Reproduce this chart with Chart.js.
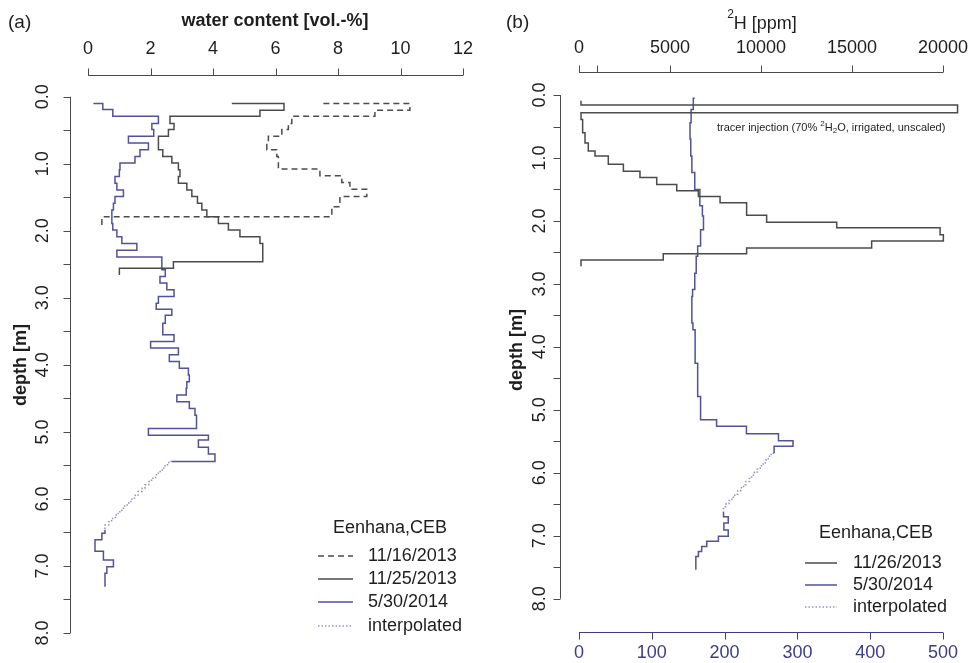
<!DOCTYPE html>
<html>
<head>
<meta charset="utf-8">
<script src="https://cdn.jsdelivr.net/npm/chart.js@4.4.1/dist/chart.umd.min.js"></script>
<style>
  html, body { margin: 0; padding: 0; background: #fff; }
  #wrap { position: relative; width: 971px; height: 663px; }
  #wrap canvas { position: absolute; top: 0; }
</style>
</head>
<body>
<div id="wrap">
  <canvas id="chartA" width="485" height="663" style="left:0"></canvas>
  <canvas id="chartB" width="486" height="663" style="left:485px"></canvas>
</div>
<script>
// axis ticks
const depthTicks = [0, 0.5, 1, 1.5, 2, 2.5, 3, 3.5, 4, 4.5, 5, 5.5, 6, 6.5, 7, 7.5, 8];
const depthLabels = ['0.0', '', '1.0', '', '2.0', '', '3.0', '', '4.0', '', '5.0', '', '6.0', '', '7.0', '', '8.0'];
const wcTicks = [0, 2, 4, 6, 8, 10, 12];
const h2Ticks = [0, 1000, 5000, 10000, 15000, 20000];
const h2Labels = ['0', '', '5000', '10000', '15000', '20000'];
const blueTicks = [0, 100, 200, 300, 400, 500];

// (a) water content [vol.-%] vs depth [m]
const wc1116Value = [7.53, 10.3, 9.18, 6.52, 6.41, 6.20, 5.77, 5.72, 6.04, 6.09, 7.42, 8.12, 8.38, 8.92, 8.06, 7.80, 0.44];
const wc1116Depth = [0.10, 0.20, 0.29, 0.40, 0.49, 0.59, 0.69, 0.79, 0.89, 1.08, 1.18, 1.28, 1.38, 1.49, 1.64, 1.79, 1.96];

const wc1125Value = [4.60, 6.27, 5.50, 2.62, 2.75, 2.57, 2.25, 2.39, 2.68, 2.89, 2.94, 2.89, 3.16, 3.32, 3.50, 3.64, 3.80, 4.17, 4.49, 4.86, 5.50, 5.59, 2.73, 1.00];
const wc1125Depth = [0.10, 0.20, 0.29, 0.40, 0.49, 0.59, 0.79, 0.89, 0.99, 1.09, 1.19, 1.29, 1.39, 1.49, 1.59, 1.69, 1.79, 1.89, 1.99, 2.09, 2.19, 2.46, 2.56, 2.66];

const wc0530Value = [0.17, 0.47, 0.79, 2.25, 2.04, 2.10, 1.29, 1.93, 1.66, 1.50, 1.02, 1.00, 0.86, 0.92, 1.13, 0.86, 0.81, 0.76, 0.76, 0.79,
  0.92, 1.08, 1.56, 0.92, 2.36, 2.47, 2.30, 2.52, 2.75, 2.25, 2.18, 2.68, 2.47, 2.39, 2.75, 2.00, 2.89, 2.60, 2.92, 3.21,
  3.24, 3.16, 3.14, 2.84, 3.24, 3.42, 3.47, 1.93, 3.85, 3.53, 3.85, 4.06, 2.68];
const wc0530Depth = [0.10, 0.19, 0.29, 0.40, 0.49, 0.59, 0.69, 0.79, 0.89, 0.99, 1.09, 1.19, 1.29, 1.39, 1.49, 1.59, 1.69, 1.79, 1.89, 1.99,
  2.09, 2.19, 2.29, 2.39, 2.58, 2.68, 2.78, 2.88, 2.98, 3.08, 3.17, 3.26, 3.38, 3.55, 3.65, 3.75, 3.85, 3.95, 4.05, 4.15,
  4.25, 4.35, 4.45, 4.55, 4.65, 4.75, 4.95, 5.05, 5.12, 5.23, 5.33, 5.44, 5.44];

const wcInterpValue = [2.68, 2.58, 2.46, 2.37, 2.25, 2.16, 2.03, 1.94, 1.82, 1.73, 1.60, 1.51, 1.40, 1.30, 1.17, 1.08, 0.96, 0.87, 0.75, 0.66, 0.54];
const wcInterpDepth = [5.44, 5.49, 5.54, 5.59, 5.64, 5.69, 5.74, 5.79, 5.84, 5.89, 5.94, 5.99, 6.04, 6.09, 6.14, 6.19, 6.24, 6.29, 6.34, 6.39, 6.46];

const wcDeepValue = [0.54, 0.54, 0.44, 0.22, 0.49, 0.81, 0.60, 0.54];
const wcDeepDepth = [6.46, 6.51, 6.61, 6.78, 6.91, 7.01, 7.11, 7.31];

// (b) 2H [ppm] (11/26/2013, top axis) and 5/30/2014 (bottom axis)
const h1126Value = [110, 110, 20800, 110, 200, 330, 510, 880, 1610, 2440, 3350, 4270, 5370, 6560, 7750, 9210, 10310, 14160, 19840, 20020, 16080, 9210, 4630, 110];
const h1126Depth = [0.09, 0.16, 0.28, 0.39, 0.60, 0.76, 0.89, 0.97, 1.10, 1.21, 1.31, 1.42, 1.52, 1.61, 1.71, 1.91, 2.02, 2.11, 2.22, 2.32, 2.43, 2.52, 2.62, 2.72];

const h0530Value = [159, 157, 154, 152.5, 153.5, 155, 159, 166, 169.5, 171, 167, 163, 161, 159, 156, 155, 156.5, 159.5, 163, 167, 189, 230, 274, 294, 268];
const h0530Depth = [0.05, 0.23, 0.44, 0.70, 0.97, 1.23, 1.50, 1.76, 1.92, 2.14, 2.40, 2.56, 2.83, 3.09, 3.20, 3.62, 3.73, 4.26, 4.79, 5.16, 5.26, 5.38, 5.49, 5.58, 5.69];

const hInterpValue = [268, 264, 260, 257, 253, 249, 245, 241, 237, 234, 229, 226, 222, 218, 214, 210, 206, 202, 198.5];
const hInterpDepth = [5.69, 5.74, 5.79, 5.84, 5.89, 5.94, 5.99, 6.04, 6.09, 6.14, 6.19, 6.24, 6.29, 6.34, 6.39, 6.44, 6.49, 6.54, 6.62];

const hDeepValue = [198.5, 198.5, 205, 199, 205, 191.5, 175.5, 168.5, 164, 160.5];
const hDeepDepth = [6.62, 6.70, 6.80, 6.91, 7.01, 7.09, 7.17, 7.25, 7.33, 7.54];

const FAM = '"Liberation Sans", Arial, sans-serif';
const INK = '#1e1e1e';
const AXIS = '#4a4a4a';
const GREY = '#4b4b4b';
const BLUE = '#51519c';
const BLUE_AX = '#3c3c8c';
const BLUE_DOT = '#9393c9';

function pts(values, depths) {
  return values.map((v, i) => ({ x: v, y: depths[i] }));
}

function stepLine(values, depths, color, dash, xAxisID) {
  return {
    data: pts(values, depths),
    borderColor: color,
    borderWidth: 1.5,
    borderDash: dash || [],
    stepped: 'before',
    pointRadius: 0,
    fill: false,
    xAxisID: xAxisID || 'x',
    yAxisID: 'y'
  };
}

function axisH(ctx, scale, ticks, labels, y, dir, labelY, lineCol, textCol) {
  ctx.strokeStyle = lineCol;
  ctx.lineWidth = 1;
  ctx.beginPath();
  ctx.moveTo(scale.getPixelForValue(ticks[0]), y + 0.5);
  ctx.lineTo(scale.getPixelForValue(ticks[ticks.length - 1]), y + 0.5);
  ticks.forEach(t => {
    const x = Math.round(scale.getPixelForValue(t)) + 0.5;
    ctx.moveTo(x, y + 0.5);
    ctx.lineTo(x, y + 0.5 + dir * 7);
  });
  ctx.stroke();
  ctx.fillStyle = textCol;
  ctx.font = '18px ' + FAM;
  ctx.textAlign = 'center';
  ctx.textBaseline = 'middle';
  ticks.forEach((t, i) => {
    if (labels[i]) ctx.fillText(labels[i], scale.getPixelForValue(t), labelY);
  });
}

function axisV(ctx, scale, ticks, labels, x, labelX) {
  ctx.strokeStyle = AXIS;
  ctx.lineWidth = 1;
  ctx.beginPath();
  ctx.moveTo(x + 0.5, scale.getPixelForValue(ticks[0]));
  ctx.lineTo(x + 0.5, scale.getPixelForValue(ticks[ticks.length - 1]));
  ticks.forEach(t => {
    const y = Math.round(scale.getPixelForValue(t)) + 0.5;
    ctx.moveTo(x + 0.5, y);
    ctx.lineTo(x + 0.5 - 7, y);
  });
  ctx.stroke();
  ctx.fillStyle = INK;
  ctx.font = '18px ' + FAM;
  ctx.textAlign = 'center';
  ctx.textBaseline = 'middle';
  ticks.forEach((t, i) => {
    if (!labels[i]) return;
    ctx.save();
    ctx.translate(labelX, scale.getPixelForValue(t));
    ctx.rotate(-Math.PI / 2);
    ctx.fillText(labels[i], 0, 0);
    ctx.restore();
  });
}

function vText(ctx, text, x, y, font) {
  ctx.save();
  ctx.translate(x, y);
  ctx.rotate(-Math.PI / 2);
  ctx.font = font;
  ctx.textAlign = 'center';
  ctx.textBaseline = 'middle';
  ctx.fillText(text, 0, 0);
  ctx.restore();
}

function legendBox(ctx, title, titleX, titleY, items, x0, x1, tx, ys) {
  ctx.fillStyle = INK;
  ctx.font = '18px ' + FAM;
  ctx.textAlign = 'center';
  ctx.textBaseline = 'middle';
  ctx.fillText(title, titleX, titleY);
  items.forEach((it, i) => {
    ctx.save();
    ctx.strokeStyle = it.color;
    ctx.lineWidth = 1.5;
    ctx.setLineDash(it.dash);
    ctx.beginPath();
    ctx.moveTo(x0, ys[i]);
    ctx.lineTo(x1, ys[i]);
    ctx.stroke();
    ctx.restore();
    ctx.fillStyle = INK;
    ctx.textAlign = 'left';
    ctx.fillText(it.label, tx, ys[i]);
  });
}

const panelA = {
  id: 'panelA',
  afterDraw(chart) {
    const { ctx, scales } = chart;
    ctx.save();
    axisH(ctx, scales.x, wcTicks, wcTicks.map(String), 75, -1, 49, AXIS, INK);
    axisV(ctx, scales.y, depthTicks, depthLabels, 70, 43);
    ctx.fillStyle = INK;
    ctx.font = 'bold 18px ' + FAM;
    ctx.textAlign = 'center';
    ctx.textBaseline = 'middle';
    ctx.fillText('water content [vol.-%]', 275, 21);
    vText(ctx, 'depth [m]', 21, 365, 'bold 18px ' + FAM);
    ctx.font = '19px ' + FAM;
    ctx.textAlign = 'left';
    ctx.fillText('(a)', 8, 23);
    legendBox(ctx, 'Eenhana,CEB', 390, 528, [
      { label: '11/16/2013', color: GREY, dash: [6, 4] },
      { label: '11/25/2013', color: GREY, dash: [] },
      { label: '5/30/2014', color: BLUE, dash: [] },
      { label: 'interpolated', color: BLUE_DOT, dash: [1.5, 2] }
    ], 318, 353, 368, [556, 579, 602, 626]);
    ctx.restore();
  }
};

const panelB = {
  id: 'panelB',
  afterDraw(chart) {
    const { ctx, scales } = chart;
    ctx.save();
    axisH(ctx, scales.x, h2Ticks, h2Labels, 72, -1, 48, AXIS, INK);
    axisH(ctx, scales.xb, blueTicks, blueTicks.map(String), 632, 1, 653, BLUE_AX, BLUE_AX);
    axisV(ctx, scales.y, depthTicks, depthLabels, 75, 55);
    vText(ctx, 'depth [m]', 32, 350, 'bold 18px ' + FAM);
    ctx.fillStyle = INK;
    ctx.textBaseline = 'middle';
    ctx.textAlign = 'left';
    ctx.font = '19px ' + FAM;
    ctx.fillText('(b)', 21, 23);
    // 2H [ppm] title with superscript
    ctx.font = '18px ' + FAM;
    const main = 'H [ppm]';
    const wMain = ctx.measureText(main).width;
    ctx.font = '12px ' + FAM;
    const wSup = ctx.measureText('2').width;
    let x = 277 - (wMain + wSup) / 2;
    ctx.fillText('2', x, 15);
    ctx.font = '18px ' + FAM;
    ctx.fillText(main, x + wSup, 24);
    // tracer annotation
    let tx = 232;
    const ty = 128;
    const part = (s, size, dy) => {
      ctx.font = size + 'px ' + FAM;
      ctx.fillText(s, tx, ty + dy);
      tx += ctx.measureText(s).width;
    };
    part('tracer injection (70% ', 11, 0);
    part('2', 8, -4);
    part('H', 11, 0);
    part('2', 8, 3);
    part('O, irrigated, unscaled)', 11, 0);
    legendBox(ctx, 'Eenhana,CEB', 391, 533, [
      { label: '11/26/2013', color: GREY, dash: [] },
      { label: '5/30/2014', color: BLUE, dash: [] },
      { label: 'interpolated', color: BLUE_DOT, dash: [1.5, 2] }
    ], 320, 352, 368, [563, 585, 607]);
    ctx.restore();
  }
};

const common = {
  responsive: false,
  animation: false,
  devicePixelRatio: 1,
  plugins: { legend: { display: false }, tooltip: { enabled: false } }
};

new Chart(document.getElementById('chartA'), {
  type: 'line',
  data: {
    datasets: [
      stepLine(wc1116Value, wc1116Depth, GREY, [6, 4]),
      stepLine(wc1125Value, wc1125Depth, GREY),
      stepLine(wc0530Value, wc0530Depth, BLUE),
      stepLine(wcInterpValue, wcInterpDepth, BLUE_DOT, [1.5, 2]),
      stepLine(wcDeepValue, wcDeepDepth, BLUE)
    ]
  },
  options: Object.assign({}, common, {
    layout: { padding: { left: 70, right: 4.5, top: 75, bottom: 8 } },
    scales: {
      x: { type: 'linear', display: false, min: -0.58, max: 12.56 },
      y: { type: 'linear', display: false, min: -0.324, max: 8.328, reverse: true }
    }
  }),
  plugins: [panelA]
});

new Chart(document.getElementById('chartB'), {
  type: 'line',
  data: {
    datasets: [
      stepLine(h1126Value, h1126Depth, GREY, [], 'x'),
      stepLine(h0530Value, h0530Depth, BLUE, [], 'xb'),
      stepLine(hInterpValue, hInterpDepth, BLUE_DOT, [1.5, 2], 'xb'),
      stepLine(hDeepValue, hDeepDepth, BLUE, [], 'xb')
    ]
  },
  options: Object.assign({}, common, {
    layout: { padding: { left: 75, right: 9, top: 72, bottom: 31 } },
    scales: {
      x: { type: 'linear', display: false, min: -1044, max: 21044 },
      xb: { type: 'linear', display: false, min: -26.1, max: 526.1 },
      y: { type: 'linear', display: false, min: -0.366, max: 8.53, reverse: true }
    }
  }),
  plugins: [panelB]
});
</script>
</body>
</html>
